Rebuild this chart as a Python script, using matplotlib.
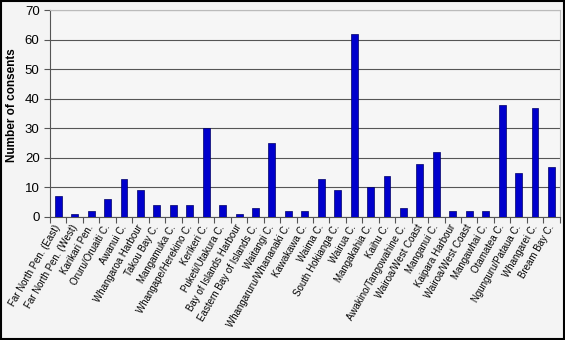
import matplotlib.pyplot as plt
import numpy as np

# catchments and consent counts
catchments = [
    'Far North Pen. (East)', 'Far North Pen. (West)', 'Karikari Pen.',
    'Oruru/Oruaiti C.', 'Awanui C.', 'Whangaroa Harbour', 'Takou Bay C.',
    'Mangamuka C.', 'Whangape/Herekino C.', 'Kerikeri C.', 'Puketi/Utakura C.',
    'Bay of Islands Harbour', 'Eastern Bay of Islands C.', 'Waitangi C.',
    'Whangaruru/Whananaki C.', 'Kawakawa C.', 'Waima C.', 'South Hokianga C.',
    'Wairua C.', 'Mangakahia C.', 'Kaihu C.', 'Awakino/Tangowahine C.',
    'Wairoa/West Coast', 'Manganui C.', 'Kaipara Harbour', 'Wairoa/West Coast',
    'Mangawhai C.', 'Otamatea C.', 'Ngunguru/Pataua C.', 'Whangarei C.',
    'Bream Bay C.',
]
consents = [7, 1, 2, 6, 13, 9, 4, 4, 4, 30, 4, 1, 3, 25, 2, 2, 13, 9,
            62, 10, 14, 3, 18, 22, 2, 2, 2, 38, 15, 37, 17]
yticks = [0, 10, 20, 30, 40, 50, 60, 70]

fig = plt.figure(figsize=(5.65, 3.4), dpi=100, facecolor='#f4f4f4')
ax = fig.add_axes([0.0885, 0.362, 0.902, 0.608])
ax.set_facecolor('#f6f6f6')

x = np.arange(len(catchments))
ax.bar(x, consents, width=0.42, color='#0000cc', edgecolor='#000066', linewidth=0.5, zorder=3)

ax.set_xlim(-0.5, len(catchments) - 0.5)
ax.set_ylim(0, 70)
ax.set_yticks(yticks)
ax.yaxis.grid(True, color='#555555', linewidth=0.8, zorder=0)
ax.set_xticks(np.arange(len(catchments) + 1) - 0.5, minor=False)
ax.set_xticklabels([])
ax.set_xticks(x, minor=True)
ax.set_xticklabels(catchments, minor=True, rotation=60, ha='right', va='center',
                   rotation_mode='anchor', fontsize=7, family='Liberation Sans')
ax.tick_params(axis='x', which='minor', length=0, pad=6)
ax.tick_params(axis='x', which='major', length=4, direction='out', color='#555555')
ax.tick_params(axis='y', labelsize=9.5, length=4, color='#555555')
for lab in ax.get_yticklabels():
    lab.set_family('Liberation Sans')

ax.set_ylabel('Number of consents', fontsize=8.5, fontweight='bold', family='Liberation Sans')
ax.yaxis.set_label_coords(-0.062, 0.54)

for side in ['top', 'right']:
    ax.spines[side].set_color('#bbbbbb')
for side in ['left', 'bottom']:
    ax.spines[side].set_color('#555555')

# outer frame
fig.patches.append(plt.Rectangle((0.002, 0.003), 0.996, 0.994, transform=fig.transFigure,
                                 fill=False, edgecolor='black', linewidth=1.5))

fig.savefig('out.png', dpi=100, facecolor=fig.get_facecolor())
